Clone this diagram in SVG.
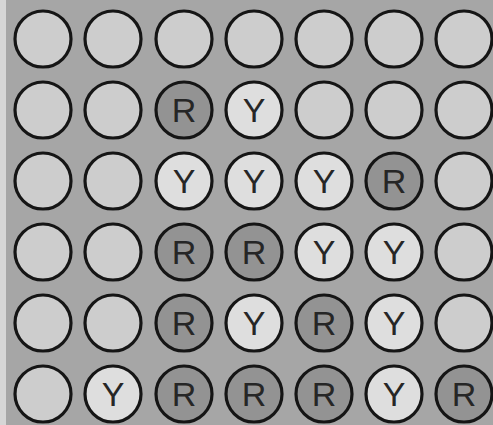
<svg xmlns="http://www.w3.org/2000/svg" width="493" height="425" viewBox="0 0 493 425">
<style>
.c{stroke:#151515;stroke-width:3.2}
.e{fill:#cdcdcd}
.r{fill:#939393}
.y{fill:#dedede}
.t{font-family:"Liberation Sans",Arial,sans-serif;font-size:34px;fill:#262626;text-anchor:middle}
</style>
<rect width="493" height="425" fill="#a6a6a6"/>
<rect width="6" height="425" fill="#d6d6d6"/>
<g id="row1">
<circle class="c e" cx="43" cy="39" r="28"/>
<circle class="c e" cx="113" cy="39" r="28"/>
<circle class="c e" cx="184" cy="39" r="28"/>
<circle class="c e" cx="254" cy="39" r="28"/>
<circle class="c e" cx="324" cy="39" r="28"/>
<circle class="c e" cx="394" cy="39" r="28"/>
<circle class="c e" cx="464" cy="39" r="28"/>
</g>
<g id="row2">
<circle class="c e" cx="43" cy="110" r="28"/>
<circle class="c e" cx="113" cy="110" r="28"/>
<circle class="c r" cx="184" cy="110" r="28"/><text class="t" x="184" y="122">R</text>
<circle class="c y" cx="254" cy="110" r="28"/><text class="t" x="254" y="122">Y</text>
<circle class="c e" cx="324" cy="110" r="28"/>
<circle class="c e" cx="394" cy="110" r="28"/>
<circle class="c e" cx="464" cy="110" r="28"/>
</g>
<g id="row3">
<circle class="c e" cx="43" cy="181" r="28"/>
<circle class="c e" cx="113" cy="181" r="28"/>
<circle class="c y" cx="184" cy="181" r="28"/><text class="t" x="184" y="193">Y</text>
<circle class="c y" cx="254" cy="181" r="28"/><text class="t" x="254" y="193">Y</text>
<circle class="c y" cx="324" cy="181" r="28"/><text class="t" x="324" y="193">Y</text>
<circle class="c r" cx="394" cy="181" r="28"/><text class="t" x="394" y="193">R</text>
<circle class="c e" cx="464" cy="181" r="28"/>
</g>
<g id="row4">
<circle class="c e" cx="43" cy="252" r="28"/>
<circle class="c e" cx="113" cy="252" r="28"/>
<circle class="c r" cx="184" cy="252" r="28"/><text class="t" x="184" y="264">R</text>
<circle class="c r" cx="254" cy="252" r="28"/><text class="t" x="254" y="264">R</text>
<circle class="c y" cx="324" cy="252" r="28"/><text class="t" x="324" y="264">Y</text>
<circle class="c y" cx="394" cy="252" r="28"/><text class="t" x="394" y="264">Y</text>
<circle class="c e" cx="464" cy="252" r="28"/>
</g>
<g id="row5">
<circle class="c e" cx="43" cy="323" r="28"/>
<circle class="c e" cx="113" cy="323" r="28"/>
<circle class="c r" cx="184" cy="323" r="28"/><text class="t" x="184" y="335">R</text>
<circle class="c y" cx="254" cy="323" r="28"/><text class="t" x="254" y="335">Y</text>
<circle class="c r" cx="324" cy="323" r="28"/><text class="t" x="324" y="335">R</text>
<circle class="c y" cx="394" cy="323" r="28"/><text class="t" x="394" y="335">Y</text>
<circle class="c e" cx="464" cy="323" r="28"/>
</g>
<g id="row6">
<circle class="c e" cx="43" cy="394" r="28"/>
<circle class="c y" cx="113" cy="394" r="28"/><text class="t" x="113" y="406">Y</text>
<circle class="c r" cx="184" cy="394" r="28"/><text class="t" x="184" y="406">R</text>
<circle class="c r" cx="254" cy="394" r="28"/><text class="t" x="254" y="406">R</text>
<circle class="c r" cx="324" cy="394" r="28"/><text class="t" x="324" y="406">R</text>
<circle class="c y" cx="394" cy="394" r="28"/><text class="t" x="394" y="406">Y</text>
<circle class="c r" cx="464" cy="394" r="28"/><text class="t" x="464" y="406">R</text>
</g>
<g id="connectors"/>
</svg>
